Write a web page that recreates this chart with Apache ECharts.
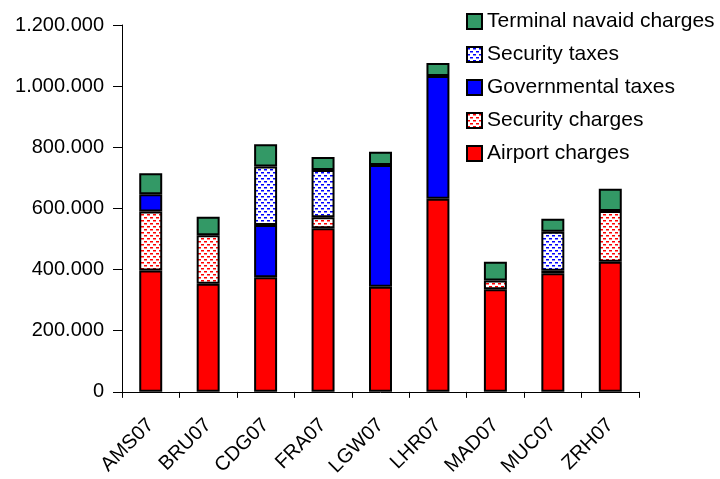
<!DOCTYPE html>
<html lang="en">
<head>
    <meta charset="UTF-8">
    <title>Airport charges 2007</title>
    <script type="text/javascript" src="https://cdn.jsdelivr.net/npm/echarts@6/dist/echarts.min.js"></script>
</head>
<body style="margin:0">
<div id="main" style="width: 720px;height:479px"></div>

<script type="text/javascript">
    var airports = ['AMS07', 'BRU07', 'CDG07', 'FRA07', 'LGW07', 'LHR07', 'MAD07', 'MUC07', 'ZRH07'];
    var airportCharges = [397000, 354000, 375000, 535000, 344000, 632000, 336000, 388000, 426000];
    var securityCharges = [193000, 158000, null, 36000, null, null, 28000, 8000, 166000];
    var governmentalTaxes = [56000, null, 171000, null, 398000, 401000, null, null, null];
    var securityTaxes = [null, null, 191000, 155000, null, null, null, 128000, null];
    var terminalNavaid = [69000, 61000, 73000, 42000, 43000, 43000, 62000, 42000, 72000];

    // dotted fill like the excel pattern
    function dots(color) {
        var c = document.createElement('canvas');
        c.width = 6;
        c.height = 6;
        var ctx = c.getContext('2d');
        ctx.fillStyle = '#fff';
        ctx.fillRect(0, 0, 6, 6);
        ctx.fillStyle = color;
        ctx.fillRect(0, 1, 3, 1.5);
        ctx.fillRect(3, 4, 3, 1.5);
        return {image: c, repeat: 'repeat'};
    }

    function thousands(v) {
        return String(v).replace(/\B(?=(\d{3})+(?!\d))/g, '.');
    }

    var myChart = echarts.init(document.getElementById('main'));
    var font = 'Liberation Sans, Arial, sans-serif';

    function bar(name, data, fill) {
        return {
            name: name,
            type: 'bar',
            stack: 'total',
            barWidth: '40%',
            data: data,
            itemStyle: {color: fill, borderColor: '#000', borderWidth: 2},
            emphasis: {disabled: true}
        };
    }

    var option = {
        animation: false,
        textStyle: {fontFamily: font},
        legend: {
            orient: 'vertical',
            left: 461,
            top: 6,
            icon: 'rect',
            itemWidth: 15,
            itemHeight: 15,
            itemGap: 12,
            textStyle: {fontSize: 21, color: '#000', fontFamily: font},
            data: ['Terminal navaid charges', 'Security taxes', 'Governmental taxes', 'Security charges', 'Airport charges']
        },
        grid: {left: 122, right: 81, top: 25, bottom: 87},
        xAxis: {
            type: 'category',
            data: airports,
            axisLine: {lineStyle: {color: '#000', width: 1}},
            axisTick: {show: true, length: 6, lineStyle: {color: '#000'}},
            axisLabel: {rotate: 45, fontSize: 20, color: '#000', margin: 30, fontFamily: font}
        },
        yAxis: {
            type: 'value',
            min: 0,
            max: 1200000,
            interval: 200000,
            splitLine: {show: false},
            axisLine: {show: true, lineStyle: {color: '#000', width: 1}},
            axisTick: {show: true, length: 9, lineStyle: {color: '#000'}},
            axisLabel: {fontSize: 20, color: '#000', margin: 18, fontFamily: font, formatter: thousands}
        },
        series: [
            bar('Airport charges', airportCharges, '#ff0000'),
            bar('Security charges', securityCharges, dots('#ff0000')),
            bar('Governmental taxes', governmentalTaxes, '#0000ff'),
            bar('Security taxes', securityTaxes, dots('#0000ff')),
            bar('Terminal navaid charges', terminalNavaid, '#339966')
        ]
    };

    option && myChart.setOption(option);
</script>
</body>
</html>
